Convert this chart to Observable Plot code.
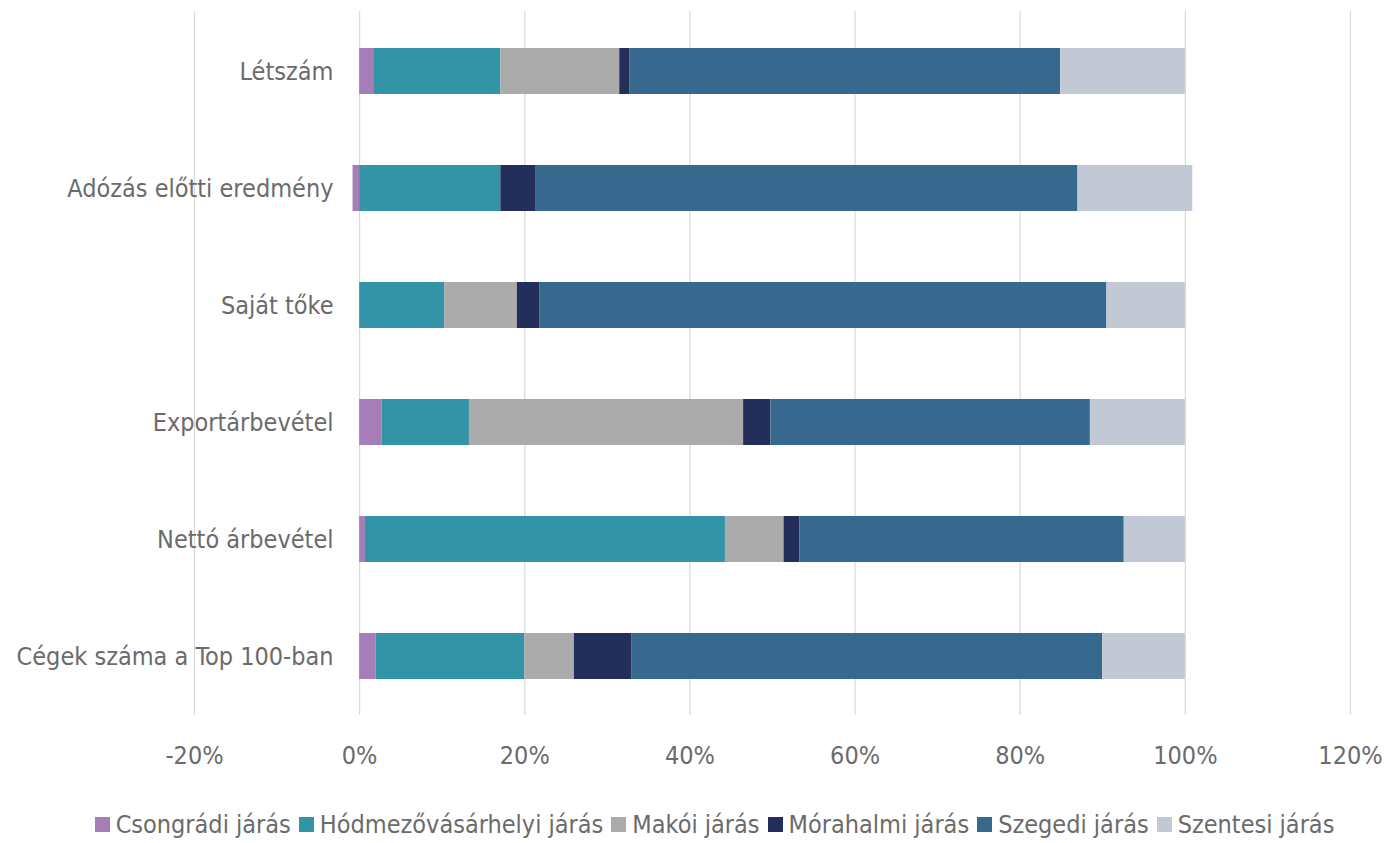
<!DOCTYPE html>
<html>
<head>
<meta charset="utf-8">
<script src="https://cdn.jsdelivr.net/npm/d3@7"></script>
<script src="https://cdn.jsdelivr.net/npm/@observablehq/plot@0.6"></script>
<style>
  body { margin: 0; background: #fff; font-family: "Liberation Sans Narrow", "DejaVu Sans Condensed", "Open Sans", sans-serif; }
  #chart svg { display: block; }
  .legend { display: flex; justify-content: center; align-items: center; gap: 8px; padding-left: 40px; font-size: 25px; color: #6b6b6b; margin-top: 20px; }
  .legend .item { display: flex; align-items: center; }
  .legend .sw { width: 15px; height: 15px; margin-right: 6px; display: inline-block; }
</style>
</head>
<body>
<div id="chart"></div>
<script>
const categories = ["Létszám", "Adózás előtti eredmény", "Saját tőke", "Exportárbevétel", "Nettó árbevétel", "Cégek száma a Top 100-ban"];
const seriesNames = ["Csongrádi járás", "Hódmezővásárhelyi járás", "Makói járás", "Mórahalmi járás", "Szegedi járás", "Szentesi járás"];
const seriesColors = ["#a77db7", "#3494a7", "#ababab", "#242e5b", "#37698e", "#c3c9d4"];
const csongradi = [1.7, -0.8, 0, 2.7, 0.7, 2];
const hodmezo   = [15.4, 17.1, 10.3, 10.6, 43.6, 18];
const makoi     = [14.4, 0, 8.8, 33.2, 7.1, 6];
const morahalmi = [1.2, 4.2, 2.7, 3.3, 1.9, 7];
const szegedi   = [52.2, 65.7, 68.7, 38.7, 39.3, 57];
const szentesi  = [15.1, 13.9, 9.5, 11.5, 7.4, 10];
const xTicks = [-20, 0, 20, 40, 60, 80, 100, 120];

const seriesValues = [csongradi, hodmezo, makoi, morahalmi, szegedi, szentesi];
const rows = [];
seriesNames.forEach((s, si) => {
  categories.forEach((c, ci) => rows.push({category: c, series: s, value: seriesValues[si][ci]}));
});

const plot = Plot.plot({
  width: 1389,
  height: 790,
  marginLeft: 194,
  marginRight: 39,
  marginTop: 11,
  marginBottom: 75,
  style: { fontFamily: "'Liberation Sans Narrow', 'DejaVu Sans Condensed', 'Open Sans', sans-serif", fontSize: "25px", color: "#6b6b6b" },
  x: { domain: [-20, 120], ticks: xTicks, tickFormat: d => `${d}%`, label: null },
  y: { domain: categories, paddingInner: 0.61, paddingOuter: 0.305, label: null },
  color: { domain: seriesNames, range: seriesColors },
  marks: [
    Plot.gridX(xTicks, { stroke: "#d9d9d9", strokeOpacity: 1, strokeWidth: 1.2 }),
    Plot.barX(rows, { x: "value", y: "category", fill: "series", order: seriesNames }),
    Plot.axisX({ ticks: xTicks, tickSize: 0, tickPadding: 31, tickFormat: d => `${d}%`, label: null, fill: "#6b6b6b", fontSize: 25 }),
    Plot.axisY({ tickSize: 0, tickPadding: 0, dx: 139, label: null, fill: "#6b6b6b", fontSize: 25 })
  ]
});
document.getElementById("chart").appendChild(plot);

const legend = document.createElement("div");
legend.className = "legend";
seriesNames.forEach((s, i) => {
  const item = document.createElement("span");
  item.className = "item";
  const sw = document.createElement("span");
  sw.className = "sw";
  sw.style.background = seriesColors[i];
  item.appendChild(sw);
  item.appendChild(document.createTextNode(s));
  legend.appendChild(item);
});
document.getElementById("chart").appendChild(legend);
</script>
</body>
</html>
